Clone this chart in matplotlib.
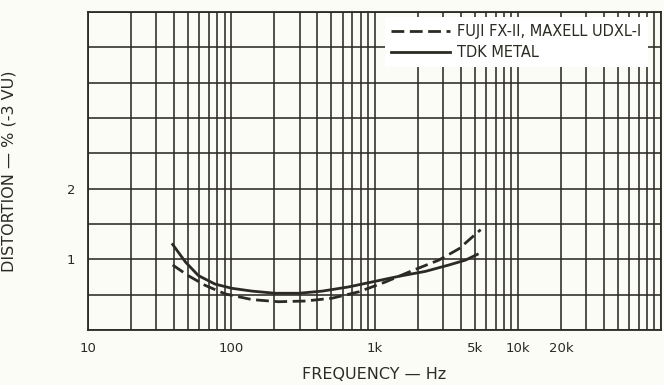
import numpy as np
import matplotlib
matplotlib.use("Agg")
import matplotlib.pyplot as plt
from matplotlib.ticker import FixedLocator, NullFormatter

# Data
tdk_freq = [39, 48, 59, 77, 101, 140, 203, 296, 431, 661, 963, 1480, 2270, 3310, 4330, 5220]
tdk_dist = [1.21, 0.96, 0.77, 0.65, 0.59, 0.55, 0.52, 0.52, 0.55, 0.61, 0.68, 0.76, 0.83, 0.92, 0.99, 1.07]

fuji_freq = [39, 50, 66, 91, 140, 214, 329, 506, 776, 1194, 1835, 2820, 3890, 5510]
fuji_dist = [0.92, 0.77, 0.63, 0.51, 0.43, 0.40, 0.41, 0.45, 0.54, 0.68, 0.84, 0.99, 1.15, 1.42]

xtick_vals = [10, 100, 1000, 5000, 10000, 20000]
xtick_labels = ["10", "100", "1k", "5k", "10k", "20k"]
ytick_vals = [1, 2]
ytick_labels = ["1", "2"]

bg = "#fcfcf6"
ink = "#2b2b24"

fig = plt.figure(figsize=(6.64, 3.85), dpi=100, facecolor=bg)
ax = fig.add_axes([88/664, 1-330/385, (661-88)/664, (330-12)/385], facecolor=bg)

ax.set_xscale("log")
ax.set_xlim(10, 100000)
ax.set_ylim(0, 4.5)

# grid: every 1..9 per decade, every 0.5 vertically
gx = [m * 10**d for d in range(1, 5) for m in range(1, 10)] + [100000]
ax.xaxis.set_major_locator(FixedLocator(xtick_vals))
ax.xaxis.set_minor_locator(FixedLocator(gx))
ax.xaxis.set_minor_formatter(NullFormatter())
ax.set_xticklabels(xtick_labels)
ax.set_yticks(ytick_vals)
ax.set_yticklabels(ytick_labels)
ax.yaxis.set_minor_locator(FixedLocator(np.arange(0, 4.51, 0.5)))
ax.grid(which="both", axis="both", color=ink, linewidth=1.15)
ax.set_axisbelow(True)
ax.tick_params(which="both", length=0)
ax.tick_params(axis="x", pad=9, labelsize=9.5, colors=ink)
ax.tick_params(axis="y", pad=9, labelsize=9.5, colors=ink)
for s in ax.spines.values():
    s.set_color(ink)
    s.set_linewidth(1.3)

ax.plot(fuji_freq, fuji_dist, color=ink, lw=2.0, linestyle=(0, (4.6, 2.0)),
        label="FUJI FX-II, MAXELL UDXL-I")
ax.plot(tdk_freq, tdk_dist, color=ink, lw=2.0, label="TDK METAL")

leg = ax.legend(loc="upper right", bbox_to_anchor=(0.977, 0.984), borderaxespad=0,
                frameon=True, fancybox=False, framealpha=1, facecolor="white",
                edgecolor="none", fontsize=10.5, handlelength=4.0, handletextpad=0.5,
                labelspacing=0.45, borderpad=0.45)
for t in leg.get_texts():
    t.set_color(ink)

ax.set_xlabel("FREQUENCY — Hz", fontsize=11.5, color=ink, labelpad=8)
ax.set_ylabel("DISTORTION — % (-3 VU)", fontsize=11.5, color=ink)
ax.yaxis.set_label_coords(-(88-17)/573, 0.5)

fig.savefig("out.png", dpi=100, facecolor=bg)
